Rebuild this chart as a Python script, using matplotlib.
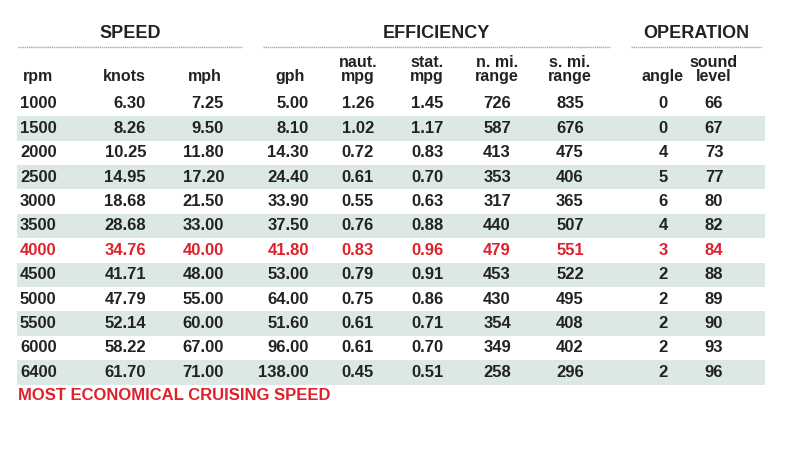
import matplotlib.pyplot as plt
from matplotlib.patches import Rectangle

rpm = ["1000", "1500", "2000", "2500", "3000", "3500", "4000", "4500", "5000", "5500", "6000", "6400"]
knots = ["6.30", "8.26", "10.25", "14.95", "18.68", "28.68", "34.76", "41.71", "47.79", "52.14", "58.22", "61.70"]
mph = ["7.25", "9.50", "11.80", "17.20", "21.50", "33.00", "40.00", "48.00", "55.00", "60.00", "67.00", "71.00"]
gph = ["5.00", "8.10", "14.30", "24.40", "33.90", "37.50", "41.80", "53.00", "64.00", "51.60", "96.00", "138.00"]
naut_mpg = ["1.26", "1.02", "0.72", "0.61", "0.55", "0.76", "0.83", "0.79", "0.75", "0.61", "0.61", "0.45"]
stat_mpg = ["1.45", "1.17", "0.83", "0.70", "0.63", "0.88", "0.96", "0.91", "0.86", "0.71", "0.70", "0.51"]
n_range = ["726", "587", "413", "353", "317", "440", "479", "453", "430", "354", "349", "258"]
s_range = ["835", "676", "475", "406", "365", "507", "551", "522", "495", "408", "402", "296"]
angle = ["0", "0", "4", "5", "6", "4", "3", "2", "2", "2", "2", "2"]
sound = ["66", "67", "73", "77", "80", "82", "84", "88", "89", "90", "93", "96"]
headers = ["rpm", "knots", "mph", "gph", "naut.\nmpg", "stat.\nmpg", "n. mi.\nrange", "s. mi.\nrange", "angle", "sound\nlevel"]
groups = ["SPEED", "EFFICIENCY", "OPERATION"]
highlight = "4000"

cols = [rpm, knots, mph, gph, naut_mpg, stat_mpg, n_range, s_range, angle, sound]
# (x position in px, alignment)
colpos = [(20, "left"), (146, "right"), (224, "right"), (309, "right"), (358, "center"),
          (427, "center"), (497, "center"), (570, "center"), (663, "center"), (714, "center")]
hdrpos = [(38, "center"), (124, "center"), (205, "center"), (290, "center"), (358, "center"),
          (427, "center"), (497, "center"), (570, "center"), (663, "center"), (714, "center")]
grp = [(18, 242), (263, 610), (631, 762)]

fam = ["Liberation Sans", "DejaVu Sans"]
dark = "#222222"
red = "#e0202a"

fig = plt.figure(figsize=(8, 4.5), dpi=100)
ax = fig.add_axes([0, 0, 1, 1])
ax.set_xlim(0, 800)
ax.set_ylim(450, 0)
ax.axis("off")

for (x0, x1), g in zip(grp, groups):
    ax.text((x0 + x1) / 2, 33, g, ha="center", va="center", fontsize=13, weight="bold", color=dark, family=fam)
    ax.plot([x0, x1], [47, 47], color="#aaaaaa", lw=1, ls=(0, (1, 0.5)))

for (x, ha), h in zip(hdrpos, headers):
    ax.text(x, 84, h, ha="center", va="bottom", fontsize=11.5, weight="bold", color=dark,
            family=fam, linespacing=0.95)

y0, dy = 104, 24.4
for i in range(len(rpm)):
    y = y0 + i * dy
    if i % 2 == 1:
        ax.add_patch(Rectangle((17, y - dy / 2), 748, dy, color="#dce8e3", lw=0))
    c = red if rpm[i] == highlight else dark
    for (x, ha), col in zip(colpos, cols):
        ax.text(x, y, col[i], ha=ha, va="center", fontsize=12, weight="bold", color=c, family=fam)

ax.text(18, 395, "MOST ECONOMICAL CRUISING SPEED", ha="left", va="center", fontsize=12,
        weight="bold", color=red, family=fam)

fig.savefig("out.png", dpi=100)
